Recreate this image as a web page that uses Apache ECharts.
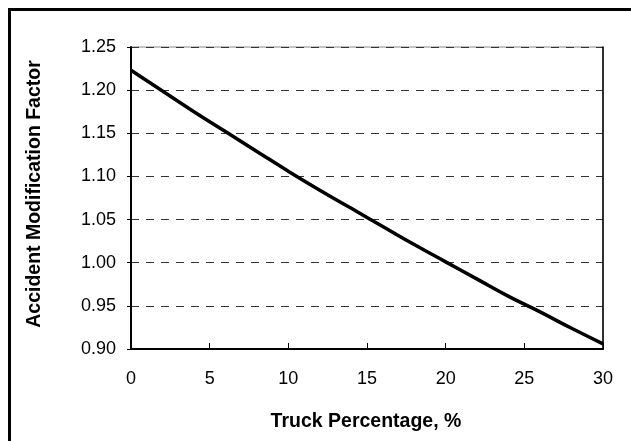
<!DOCTYPE html>
<html>
<head>
<meta charset="utf-8">
<script src="https://cdn.jsdelivr.net/npm/echarts@6/dist/echarts.min.js"></script>
<style>
  html, body { margin: 0; padding: 0; background: #fff; }
  #chart { width: 631px; height: 441px; }
</style>
</head>
<body>
<div id="chart"></div>
<script>
// truck percentage (x) and accident modification factor (y)
var truckPct = [0, 2, 4, 6, 8, 10, 12, 14, 16, 18, 20, 22, 24, 26, 28, 30];
var amfValues = [1.223, 1.199, 1.175, 1.152, 1.129, 1.106, 1.084, 1.063, 1.042, 1.021, 1.001, 0.981, 0.961, 0.943, 0.924, 0.906];
var xTitle = "Truck Percentage, %";
var yTitle = "Accident Modification Factor";

var points = [];
for (var i = 0; i < truckPct.length; i++) {
    points.push([truckPct[i], amfValues[i]]);
}

var font = "'Liberation Sans', Arial, sans-serif";
var myChart = echarts.init(document.getElementById("chart"), null, { renderer: "canvas" });

myChart.setOption({
    animation: false,
    backgroundColor: "#fff",
    grid: {
        left: 131, top: 47, right: 28, bottom: 92, containLabel: false,
        show: true, borderColor: "#888", borderWidth: 1
    },
    xAxis: {
        type: "value",
        min: 0,
        max: 30,
        interval: 5,
        axisLine: { lineStyle: { color: "#000", width: 2 } },
        axisTick: { inside: true, length: 6, lineStyle: { color: "#000", width: 1 } },
        axisLabel: { color: "#000", fontSize: 18, fontFamily: font, margin: 21 },
        splitLine: { show: false }
    },
    yAxis: [
        {
            type: "value",
            min: 0.9,
            max: 1.25,
            interval: 0.05,
            axisLine: { show: true, lineStyle: { color: "#000", width: 2 } },
            axisTick: { show: true, inside: false, length: 4, lineStyle: { color: "#000" } },
            axisLabel: {
                color: "#000", fontSize: 18, fontFamily: font, margin: 15,
                formatter: function (v) { return v.toFixed(2); }
            },
            splitLine: { show: true, lineStyle: { color: "#333", width: 1, type: [8, 7] } }
        },
        {
            // right edge of the plot box
            type: "value",
            position: "right",
            min: 0.9,
            max: 1.25,
            interval: 0.05,
            axisLine: { show: true, lineStyle: { color: "#000", width: 1.5 } },
            axisTick: { show: false },
            axisLabel: { show: false },
            splitLine: { show: false }
        }
    ],
    graphic: [
        {
            type: "rect",
            shape: { x: 9.5, y: 9.5, width: 700, height: 500 },
            style: { fill: "none", stroke: "#000", lineWidth: 3 },
            silent: true
        },
        {
            type: "text",
            x: 366, y: 422,
            style: {
                text: xTitle, fill: "#000", font: "bold 19.5px " + font,
                textAlign: "center", textVerticalAlign: "middle"
            }
        },
        {
            type: "text",
            x: 35, y: 194,
            rotation: Math.PI / 2,
            style: {
                text: yTitle, fill: "#000", font: "bold 19.5px " + font,
                textAlign: "center", textVerticalAlign: "middle"
            }
        }
    ],
    series: [
        {
            type: "line",
            data: points,
            smooth: true,
            showSymbol: false,
            lineStyle: { color: "#000", width: 3.5 }
        }
    ]
});
</script>
</body>
</html>
